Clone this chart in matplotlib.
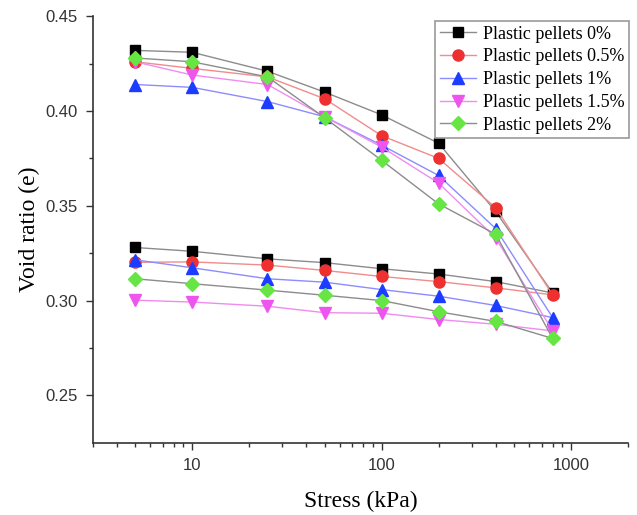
import numpy as np
import matplotlib
matplotlib.use('Agg')
import matplotlib.pyplot as plt

# loading path (5 -> 800 kPa), then unloading path (400 -> 5 kPa)
stress_load = [5, 10, 25, 50, 100, 200, 400, 800]
stress_unload = [400, 200, 100, 50, 25, 10, 5]

labels = ['Plastic pellets 0%', 'Plastic pellets 0.5%', 'Plastic pellets 1%',
          'Plastic pellets 1.5%', 'Plastic pellets 2%']

e_load_0 = [0.432, 0.431, 0.421, 0.410, 0.398, 0.383, 0.347, 0.304]
e_load_05 = [0.426, 0.4225, 0.418, 0.4065, 0.387, 0.375, 0.349, 0.303]
e_load_1 = [0.414, 0.4125, 0.405, 0.397, 0.382, 0.366, 0.338, 0.291]
e_load_15 = [0.426, 0.419, 0.414, 0.397, 0.381, 0.362, 0.333, 0.284]
e_load_2 = [0.428, 0.426, 0.418, 0.3965, 0.374, 0.351, 0.335, 0.280]

e_unload_0 = [0.310, 0.314, 0.3168, 0.320, 0.322, 0.326, 0.328]
e_unload_05 = [0.3067, 0.310, 0.3127, 0.3159, 0.3187, 0.3204, 0.3202]
e_unload_1 = [0.2974, 0.3023, 0.3058, 0.3097, 0.3115, 0.3173, 0.3215]
e_unload_15 = [0.2875, 0.290, 0.2933, 0.2936, 0.297, 0.2992, 0.3002]
e_unload_2 = [0.289, 0.2941, 0.300, 0.3028, 0.3055, 0.3089, 0.3115]

loads = [e_load_0, e_load_05, e_load_1, e_load_15, e_load_2]
unloads = [e_unload_0, e_unload_05, e_unload_1, e_unload_15, e_unload_2]

markers = ['s', 'o', '^', 'v', 'D']
marker_colors = ['#000000', '#ee3030', '#1c3cff', '#ee55ee', '#66e544']
line_colors = ['#8c8c8c', '#f08c8c', '#8c8cff', '#f08cf0', '#8c8c8c']
marker_sizes = [7, 8, 8, 8, 7]

serif = 'Liberation Serif'
sans = 'Liberation Sans'

fig = plt.figure(figsize=(6.37, 5.15), dpi=100)
ax = fig.add_axes([0.146, 0.1404, 0.840, 0.828])

for i in range(len(labels)):
    x = stress_load + stress_unload
    y = loads[i] + unloads[i]
    ax.plot(x, y, color=line_colors[i], linewidth=1.0, marker=markers[i],
            markersize=marker_sizes[i], markerfacecolor=marker_colors[i],
            markeredgecolor=marker_colors[i], label=labels[i])

ax.set_xscale('log')
ax.set_xlim(3, 2000)
ax.set_ylim(0.225, 0.45)
ax.set_yticks([0.25, 0.30, 0.35, 0.40, 0.45])
ax.set_yticks(np.arange(0.275, 0.45, 0.05), minor=True)
ax.set_xticks([10, 100, 1000])
ax.set_xticklabels(['10', '100', '1000'])

for side in ['top', 'right']:
    ax.spines[side].set_visible(False)
for side in ['left', 'bottom']:
    ax.spines[side].set_color('#333333')
    ax.spines[side].set_linewidth(1.2)

ax.tick_params(axis='both', which='major', direction='out', length=5, width=1,
               color='#333333', labelsize=12, pad=6)
ax.tick_params(axis='both', which='minor', direction='out', length=3, width=1,
               color='#333333')
for lab in ax.get_xticklabels() + ax.get_yticklabels():
    lab.set_fontfamily(sans)
    lab.set_color('#333333')

ax.set_xlabel('Stress (kPa)', fontsize=17, fontfamily=serif, labelpad=13)
ax.set_ylabel('Void ratio (e)', fontsize=17, fontfamily=serif, labelpad=4)

leg = ax.legend(loc='upper left', bbox_to_anchor=(0.683, 0.959),
                bbox_transform=fig.transFigure, borderaxespad=0,
                prop={'family': serif, 'size': 13}, numpoints=1,
                handlelength=2.0, handletextpad=0.4, labelspacing=0.32,
                borderpad=0.25, fancybox=False, framealpha=1)
leg.get_frame().set_edgecolor('#999999')
leg.get_frame().set_linewidth(1.2)

fig.savefig('out.png', dpi=100)
